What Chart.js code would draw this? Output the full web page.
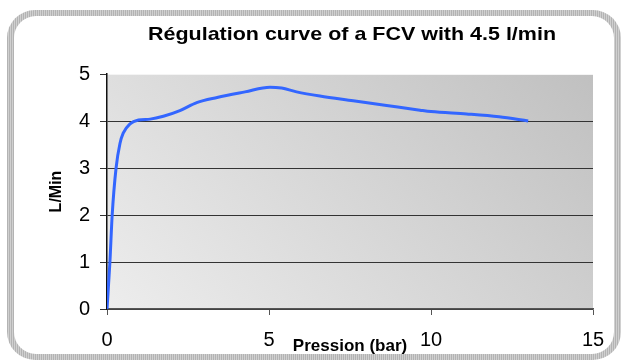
<!DOCTYPE html>
<html>
<head>
<meta charset="utf-8">
<script src="https://cdn.jsdelivr.net/npm/chart.js@4.4.1/dist/chart.umd.min.js"></script>
<style>
  html, body { margin: 0; padding: 0; background: #fff; overflow: hidden; }
  #wrap { position: relative; width: 621px; height: 360px; }
  #frame {
    position: absolute; left: 7px; top: 10px; width: 614px; height: 350px;
    border-radius: 28px;
    background: repeating-linear-gradient(90deg, #b3b3b3 0 1px, #d0d0d0 1px 2px);
  }
  #frameInner {
    position: absolute; left: 7px; top: 6px; right: 7px; bottom: 6px;
    border-radius: 22px; background: #fff;
  }
  canvas { position: absolute; left: 0; top: 0; }
</style>
</head>
<body>
<div id="wrap">
  <div id="frame"><div id="frameInner"></div></div>
  <canvas id="chart" width="621" height="360"></canvas>
</div>
<script>
// data
const pressure = [0, 0.09, 0.16, 0.28, 0.4, 0.5, 0.71, 0.97, 1.33, 1.74, 2.25, 2.77, 3.4, 4.26, 5.03, 5.39, 5.85, 6.57, 7.6, 8.63, 9.66, 10.0, 11.1, 12.1, 13.0];
const flow     = [0, 1.0, 2.0, 3.0, 3.52, 3.74, 3.94, 4.02, 4.04, 4.1, 4.22, 4.39, 4.5, 4.62, 4.72, 4.70, 4.62, 4.53, 4.43, 4.33, 4.23, 4.2, 4.15, 4.09, 4.0];
const xTicks = [0, 5, 10, 15];
const yTicks = [0, 1, 2, 3, 4, 5];

const chartTitle = 'Régulation curve of a FCV with 4.5 l/min';
const FONT = '"Liberation Sans", Arial, sans-serif';

// gradient plot background + title
const plotBg = {
    id: 'plotBg',
    beforeDraw(chart) {
        const {ctx, chartArea: a} = chart;
        const w = a.right - a.left, h = a.bottom - a.top;
        const d = (w + h) / 2;
        const g = ctx.createLinearGradient(a.left, a.bottom, a.left + d, a.bottom - d);
        g.addColorStop(0, '#ededed');
        g.addColorStop(1, '#c0c0c0');
        ctx.save();
        ctx.fillStyle = g;
        ctx.fillRect(a.left, a.top, w, h);
        ctx.restore();
    },
    afterDraw(chart) {
        const ctx = chart.ctx;
        ctx.save();
        ctx.font = 'bold 19px ' + FONT;
        ctx.fillStyle = '#000';
        ctx.textAlign = 'center';
        ctx.textBaseline = 'alphabetic';
        // the original title is a little wider than the font gives
        const sx = 408 / ctx.measureText(chartTitle).width;
        ctx.translate(352, 40);
        ctx.scale(sx, 1);
        ctx.fillText(chartTitle, 0, 0);
        ctx.restore();
    }
};

const points = pressure.map((p, i) => ({x: p, y: flow[i]}));

new Chart(document.getElementById('chart'), {
    type: 'line',
    data: {
        datasets: [{
            data: points,
            borderColor: '#3366ff',
            borderWidth: 3,
            pointRadius: 0,
            fill: false,
            cubicInterpolationMode: 'monotone'
        }]
    },
    options: {
        responsive: false,
        animation: false,
        layout: { padding: { top: 74, right: 28, left: 0, bottom: 0 } },
        plugins: {
            legend: { display: false },
            tooltip: { enabled: false }
        },
        scales: {
            x: {
                type: 'linear',
                min: 0, max: 15,
                afterFit(scale) { scale.height = 51; },
                afterBuildTicks(scale) { scale.ticks = xTicks.map(v => ({value: v})); },
                ticks: {
                    padding: 13,
                    color: '#000',
                    font: { family: FONT, size: 20 }
                },
                grid: {
                    drawOnChartArea: false,
                    tickLength: 6,
                    tickColor: '#555',
                    tickWidth: 1
                },
                border: { color: '#555', width: 1.5 },
                title: {
                    display: true,
                    text: 'Pression (bar)',
                    color: '#000',
                    font: { family: FONT, size: 17, weight: 'bold' },
                    padding: { top: 0, bottom: 3 }
                }
            },
            y: {
                min: 0, max: 5,
                afterFit(scale) { scale.width = 107; },
                afterBuildTicks(scale) { scale.ticks = yTicks.map(v => ({value: v})); },
                ticks: {
                    padding: 10,
                    color: '#000',
                    font: { family: FONT, size: 20 }
                },
                grid: {
                    color: ctx => ctx.tick && ctx.tick.value === 5 ? '#f4f4f4' : '#333',
                    lineWidth: 1,
                    tickLength: 7,
                    tickColor: '#333'
                },
                border: { color: '#111', width: 1.5 },
                title: {
                    display: true,
                    text: 'L/Min',
                    color: '#000',
                    font: { family: FONT, size: 16, weight: 'bold' },
                    padding: { top: 47, bottom: 0 }
                }
            }
        }
    },
    plugins: [plotBg]
});
</script>
</body>
</html>
